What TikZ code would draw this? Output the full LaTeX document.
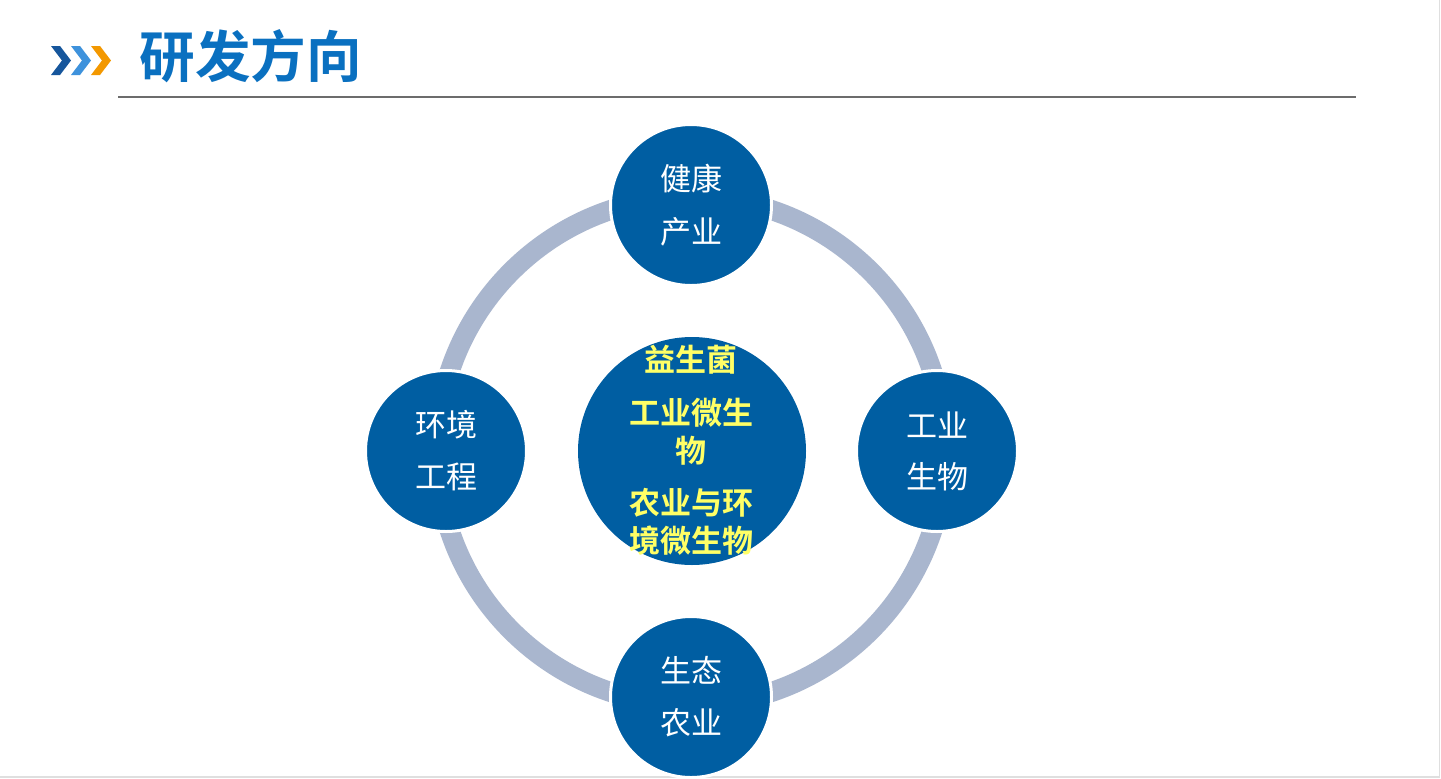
\documentclass[tikz,border=0pt]{standalone}
\usepackage{fontspec}
\newfontfamily\cjk{Noto Sans CJK SC}[BoldFont=* Bold]
\definecolor{discblue}{RGB}{0,94,162}
\definecolor{ringgray}{RGB}{169,182,206}
\definecolor{titleblue}{RGB}{10,112,192}
\definecolor{chevdark}{RGB}{22,86,156}
\definecolor{chevlight}{RGB}{62,146,220}
\definecolor{chevorange}{RGB}{243,152,0}
\definecolor{centeryellow}{RGB}{255,255,102}
\begin{document}
\begin{tikzpicture}[x=0.5pt,y=-0.5pt,
  outerdisc/.style={circle,fill=discblue,draw=white,line width=1.5pt,minimum size=161pt*0.5,inner sep=0pt},
  centerdisc/.style={circle,fill=discblue,minimum size=228pt*0.5,inner sep=0pt},
  outertext/.style={text=white,font=\cjk\fontsize{15.5}{27}\selectfont,align=center,inner sep=0pt},
  centertext/.style={text=centeryellow,font=\cjk\bfseries\fontsize{15.5}{19}\selectfont,align=center,inner sep=0pt}]
\useasboundingbox (0,0) rectangle (1441,778);
\fill[white] (0,0) rectangle (1441,778);
\draw[gray!25,line width=0.75pt] (1439.5,0) -- (1439.5,777) -- (0,777);
% title
\fill[chevdark]   (51,46) -- (60,46) -- (71,60.5) -- (60,75) -- (51,75) -- (62,60.5) -- cycle;
\fill[chevlight]  (71,46) -- (80,46) -- (91,60.5) -- (80,75) -- (71,75) -- (82,60.5) -- cycle;
\fill[chevorange] (91,46) -- (100,46) -- (111,60.5) -- (100,75) -- (91,75) -- (102,60.5) -- cycle;
\node[anchor=west,text=titleblue,font=\cjk\bfseries\fontsize{27.8}{30}\selectfont,inner sep=0pt] (title) at (139,56) {研发方向};
\coordinate (ruleL) at (118,97);
\coordinate (ruleR) at (1356,97);
\draw[gray!85!black,line width=1pt] (ruleL) -- (ruleR);
% ring
\coordinate (hub) at (691,451);
\draw[ringgray,line width=10pt] (hub) circle[radius=254];
% discs
\node[centerdisc] (center) at (692,451) {};
\node[outerdisc] (top) at (691,205) {};
\node[outerdisc] (left) at (446,451) {};
\node[outerdisc] (right) at (937,451) {};
\node[outerdisc] (bottom) at (691,697) {};
% outer texts
\node[outertext] (topA) at (691,179) {健康};
\node[outertext] (topB) at (691,232) {产业};
\node[outertext] (leftA) at (446,425) {环境};
\node[outertext] (leftB) at (446,477) {工程};
\node[outertext] (rightA) at (937,425) {工业};
\node[outertext] (rightB) at (937,477) {生物};
\node[outertext] (bottomA) at (691,670) {生态};
\node[outertext] (bottomB) at (691,723) {农业};
% center texts
\node[centertext] (c1) at (691,360) {益生菌};
\node[centertext] (c2) at (691,432) {工业微生\\物};
\node[centertext] (c3) at (691,522) {农业与环\\境微生物};
\end{tikzpicture}
\end{document}
